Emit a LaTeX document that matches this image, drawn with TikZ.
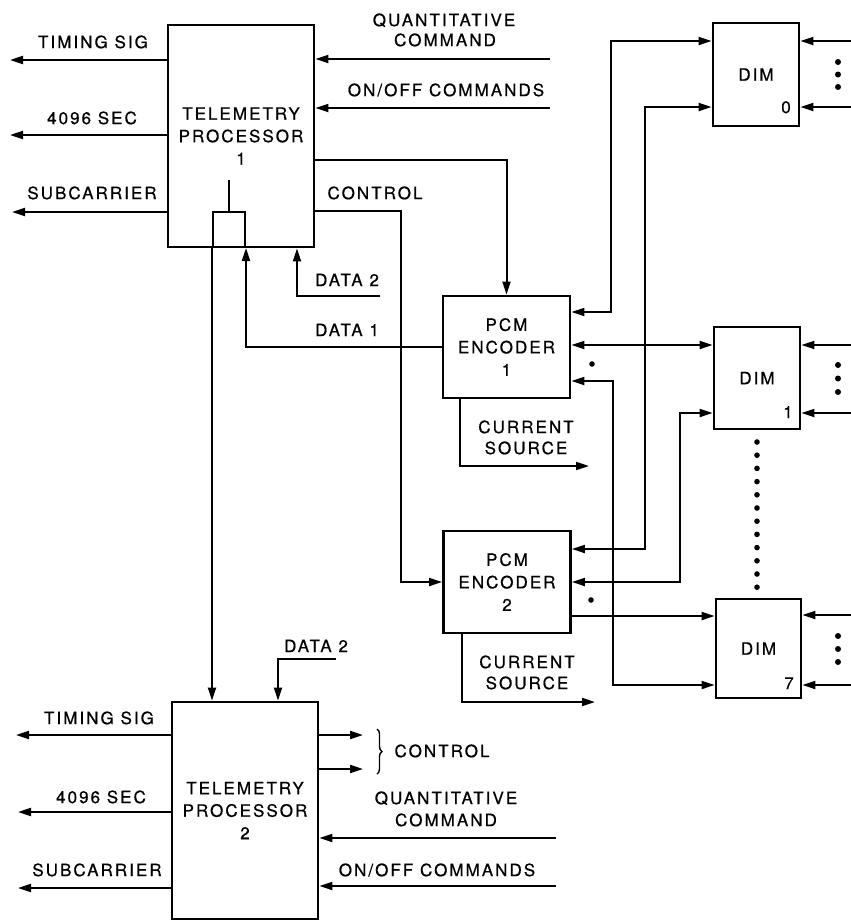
\documentclass[tikz,border=0pt]{standalone}
\usepackage{fontspec}
\setmainfont{TeX Gyre Heros}[LetterSpace=12,FakeBold=0.6]
\usetikzlibrary{arrows.meta,decorations.pathreplacing,calc}
\begin{document}
\begin{tikzpicture}[x=1pt,y=-1pt,
  every node/.style={font=\fontsize{17}{22.5}\selectfont},
  blk/.style={draw, line width=2.8pt, inner sep=0pt, align=center},
  lbl/.style={inner sep=0pt, text height=12.3pt, text depth=0pt},
  wire/.style={line width=2pt},
  arr/.style={wire, -{Triangle[length=13pt,width=8pt]}},
  darr/.style={wire, {Triangle[length=13pt,width=8pt]}-{Triangle[length=13pt,width=8pt]}},
  blob/.style={fill=black}
]
\fill[white] (0,0) rectangle (851,922);
\useasboundingbox (0,0) rectangle (851,922);

% ---------- blocks ----------
\node[blk, minimum width=146pt, minimum height=222pt] (tp1) at (241,136) {TELEMETRY\\PROCESSOR\\1};
\node[blk, minimum width=146pt, minimum height=217pt] (tp2) at (245,810.5) {TELEMETRY\\PROCESSOR\\2};
\node[blk, minimum width=127pt, minimum height=102pt] (pcm1) at (506.5,347) {PCM\\ENCODER\\1};
\node[blk, minimum width=127pt, minimum height=102pt] (pcm2) at (507,582) {PCM\\ENCODER\\2};
\node[blk, minimum width=86pt, minimum height=103pt] (dim0) at (756,74.5) {DIM};
\node[blk, minimum width=86pt, minimum height=102pt] (dim1) at (757,378) {DIM};
\node[blk, minimum width=85pt, minimum height=99pt] (dim7) at (758.5,648.5) {DIM};
\node[lbl] (n0) at (786,107) {0};
\node[lbl] (n1) at (788,412) {1};
\node[lbl] (n7) at (789,683) {7};
\node[draw, wire, minimum width=32pt, minimum height=35pt, inner sep=0pt] (sbox) at (229,229.5) {};

% ---------- TP1 left outputs ----------
\coordinate (ts1) at (10,60);
\coordinate (sec1) at (10,135);
\coordinate (sub1) at (12,212);
\draw[arr] (tp1.west |- ts1) -- (ts1);
\draw[arr] (tp1.west |- sec1) -- (sec1);
\draw[arr] (tp1.west |- sub1) -- (sub1);
\node[lbl] (lts1) at (93,42) {TIMING SIG};
\node[lbl] (lsec1) at (92,118) {4096 SEC};
\node[lbl] (lsub1) at (92,193) {SUBCARRIER};

% ---------- TP1 right inputs ----------
\coordinate (qc1) at (550,59);
\coordinate (oo1) at (550,108);
\draw[arr] (qc1) -- (tp1.east |- qc1);
\draw[arr] (oo1) -- (tp1.east |- oo1);
\node[lbl] (lq1a) at (444,20) {QUANTITATIVE};
\node[lbl] (lq1b) at (445,40) {COMMAND};
\node[lbl] (loo1) at (446,90) {ON/OFF COMMANDS};

% ---------- TP1 to encoders ----------
\coordinate (r160) at (0,160);
\draw[arr] (tp1.east |- r160) -| (pcm1.north);
\coordinate (ctl) at (401,211);
\draw[arr] (tp1.east |- ctl) -- (ctl) |- (pcm2.west);
\node[lbl] (lctl1) at (375,193) {CONTROL};
\coordinate (stubtop) at (229,180);
\draw[wire] (sbox.north) -- (stubtop);
\draw[arr] (sbox.south west) -- (sbox.south west |- tp2.north);
\draw[arr] (pcm1.west) -| (sbox.south east);
\node[lbl] (ld1) at (347,330) {DATA 1};
\coordinate (d2a) at (380,296);
\coordinate (d2ax) at (297,0);
\draw[arr] (d2a) -| (d2ax |- tp1.south);
\node[lbl] (ld2a) at (347,280) {DATA 2};

% ---------- current sources ----------
\coordinate (cs1x) at (460,0);
\coordinate (cs1e) at (589,466);
\draw[arr] (cs1x |- pcm1.south) |- (cs1e);
\node[lbl] (lcs1a) at (526,427) {CURRENT};
\node[lbl] (lcs1b) at (526,448) {SOURCE};
\coordinate (cs2x) at (462,0);
\coordinate (cs2e) at (595,702);
\draw[arr] (cs2x |- pcm2.south) |- (cs2e);
\node[lbl] (lcs2a) at (527,662) {CURRENT};
\node[lbl] (lcs2b) at (527,683) {SOURCE};

% ---------- encoder <-> DIM links ----------
\coordinate (k1a) at (611,41);
\coordinate (k1b) at (611,312);
\draw[darr] (dim0.west |- k1a) -- (k1a) -- (k1b) -- (pcm1.east |- k1b);
\coordinate (k2a) at (645,107);
\coordinate (k2b) at (645,549);
\draw[darr] (dim0.west |- k2a) -- (k2a) -- (k2b) -- (pcm2.east |- k2b);
\coordinate (k3) at (0,345);
\draw[darr] (pcm1.east |- k3) -- (dim1.west |- k3);
\coordinate (k4a) at (680,413);
\coordinate (k4b) at (680,582);
\draw[darr] (dim1.west |- k4a) -- (k4a) -- (k4b) -- (pcm2.east |- k4b);
\coordinate (k5a) at (613,381);
\coordinate (k5b) at (613,685);
\draw[darr] (pcm1.east |- k5a) -- (k5a) -- (k5b) -- (dim7.west |- k5b);
\coordinate (k6) at (0,616);
\draw[arr] (pcm2.east |- k6) -- (dim7.west |- k6);
\fill[blob] (592,364) circle (2.8pt);
\fill[blob] (591,600) circle (2.8pt);

% ---------- DIM right inputs ----------
\foreach \yy/\dd in {41/dim0,107/dim0,345/dim1,413/dim1,615/dim7,685/dim7}{
  \coordinate (rin) at (851,\yy);
  \draw[arr] (rin) -- (\dd.east |- rin);
}
\foreach \yy in {62,74.5,87,365,378.5,392,636,649,662}{
  \fill[blob] (838,\yy) circle (3pt);
}
\foreach \i in {0,...,11}{
  \fill[blob] (757,442+\i*13.2) circle (2.8pt);
}

% ---------- TP2 ----------
\coordinate (d2b) at (336,659);
\coordinate (d2bx) at (278,0);
\draw[arr] (d2b) -| (d2bx |- tp2.north);
\node[lbl] (ld2b) at (316,646) {DATA 2};
\coordinate (ts2) at (16,735);
\coordinate (sec2) at (18,812);
\coordinate (sub2) at (18,888);
\draw[arr] (tp2.west |- ts2) -- (ts2);
\draw[arr] (tp2.west |- sec2) -- (sec2);
\draw[arr] (tp2.west |- sub2) -- (sub2);
\node[lbl] (lts2) at (99,718) {TIMING SIG};
\node[lbl] (lsec2) at (101,797) {4096 SEC};
\node[lbl] (lsub2) at (97,870) {SUBCARRIER};
\coordinate (c2a) at (363,735);
\coordinate (c2b) at (363,769);
\draw[arr] (tp2.east |- c2a) -- (c2a);
\draw[arr] (tp2.east |- c2b) -- (c2b);
\draw[line width=1.4pt, decorate, decoration={brace, amplitude=5pt}] (377,729) -- (377,774);
\node[lbl] (lctl2) at (442,751) {CONTROL};
\coordinate (qc2) at (556,838);
\coordinate (oo2) at (556,886);
\draw[arr] (qc2) -- (tp2.east |- qc2);
\draw[arr] (oo2) -- (tp2.east |- oo2);
\node[lbl] (lq2a) at (446,798) {QUANTITATIVE};
\node[lbl] (lq2b) at (446,820) {COMMAND};
\node[lbl] (loo2) at (437,870) {ON/OFF COMMANDS};
\end{tikzpicture}
\end{document}
